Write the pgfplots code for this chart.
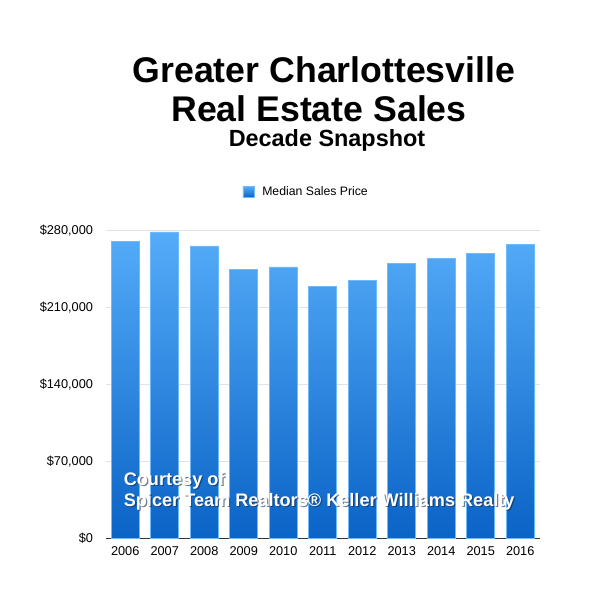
\documentclass[border=0pt]{standalone}
\usepackage{pgfplots}
\pgfplotsset{compat=1.18}
\usepackage{fontspec}
\setmainfont{Liberation Sans}
\definecolor{bartop}{RGB}{85,172,249}
\definecolor{barbot}{RGB}{10,99,198}
\definecolor{baredge}{RGB}{110,186,250}
\begin{document}
\begin{tikzpicture}
\fill[white] (0,0) rectangle (612bp,612bp);
\path[use as bounding box] (0,0) rectangle (612bp,612bp);
\node[anchor=base,font=\bfseries\fontsize{35.8}{35.8}\selectfont] at (324bp,529.3bp) {Greater Charlottesville};
\node[anchor=base,font=\bfseries\fontsize{35.8}{35.8}\selectfont] at (319bp,490.3bp) {Real Estate Sales};
\node[anchor=base,font=\bfseries\fontsize{23.5}{23.5}\selectfont] at (327bp,465.3bp) {Decade Snapshot};
\begin{axis}[
  at={(105.5bp,73.3bp)}, anchor=south west,
  scale only axis, width=434.5bp, height=308bp,
  xmin=-0.5, xmax=10.5, ymin=0, ymax=280000,
  clip=false,
  ybar, bar width=28bp,
  xtick={0,...,10},
  xticklabels={2006,2007,2008,2009,2010,2011,2012,2013,2014,2015,2016},
  ytick={0,70000,140000,210000,280000},
  yticklabels={{\$0},{\$70,000},{\$140,000},{\$210,000},{\$280,000}},
  scaled y ticks=false,
  major tick length=0pt,
  axis x line=bottom, axis y line=left,
  x axis line style={-, draw={rgb,255:red,51;green,51;blue,51}, line width=1.3pt},
  y axis line style={draw=none},
  ymajorgrids, major grid style={draw={rgb,255:red,226;green,226;blue,226}, line width=1pt},
  tick label style={font=\fontsize{12.8}{12.8}\selectfont, text=black},
  yticklabel style={xshift=-9bp},
  xticklabel style={yshift=-4bp},
  legend style={at={(0.462,1.126)}, anchor=center, draw=none, fill=none,
    font=\fontsize{12.3}{12.3}\selectfont, legend columns=1},
  legend image code/.code={\fill[top color=bartop,bottom color=barbot] (0bp,-5.5bp) rectangle (11bp,5.5bp); \path (17bp,0bp);},
]
\addplot[top color=bartop, bottom color=barbot, draw=baredge, line width=0.6pt] coordinates {
 (0,270000) (1,279000) (2,266100) (3,244900) (4,247000) (5,229700)
 (6,234900) (7,250000) (8,254900) (9,259700) (10,267600)};
\addlegendentry{Median Sales Price}
\end{axis}
\begin{scope}[font=\bfseries\fontsize{18.2}{18.2}\selectfont, inner sep=0pt]
\node[anchor=base west, text={rgb,255:red,20;green,40;blue,70}, opacity=0.6] at (124.8bp,125.1bp) {Courtesy of};
\node[anchor=base west, text={rgb,255:red,20;green,40;blue,70}, opacity=0.6] at (124.8bp,104.1bp) {Spicer Team Realtors® Keller Williams Realty};
\node[anchor=base west, text=white] at (123.6bp,126.3bp) {Courtesy of};
\node[anchor=base west, text=white] at (123.6bp,105.3bp) {Spicer Team Realtors® Keller Williams Realty};
\end{scope}
\end{tikzpicture}
\end{document}
